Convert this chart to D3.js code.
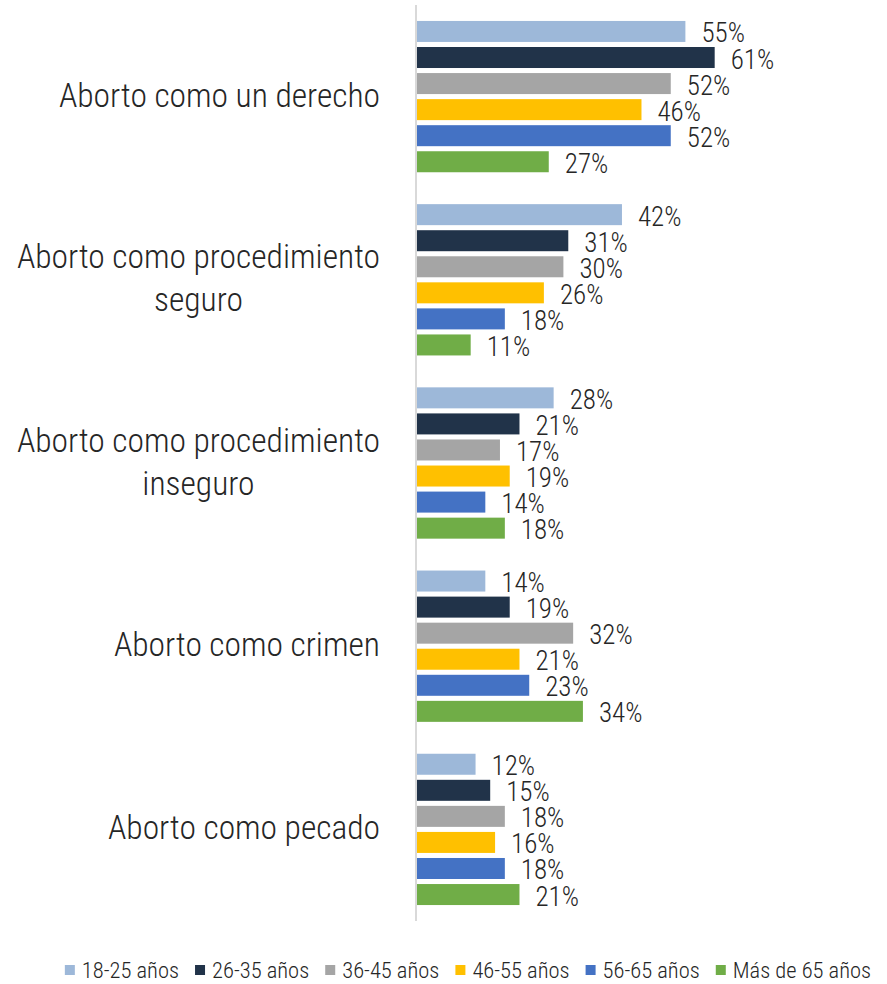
<!DOCTYPE html>
<html>
<head>
<meta charset="utf-8">
<script src="https://cdn.jsdelivr.net/npm/d3@7"></script>
<style>
  html, body { margin: 0; padding: 0; background: #ffffff; }
  svg { display: block; }
  text { font-family: "Roboto Condensed", "Roboto", sans-serif; font-stretch: condensed; font-weight: 300; fill: #262626; }
</style>
</head>
<body>
<svg id="chart" width="887" height="984"></svg>
<script>
const categories = [
  ["Aborto como un derecho"],
  ["Aborto como procedimiento", "seguro"],
  ["Aborto como procedimiento", "inseguro"],
  ["Aborto como crimen"],
  ["Aborto como pecado"]
];
const seriesNames = ["18-25 años", "26-35 años", "36-45 años", "46-55 años", "56-65 años", "Más de 65 años"];
const seriesColors = ["#9db8d9", "#213349", "#a5a5a5", "#ffc000", "#4472c4", "#70ad47"];
const values = [
  [55, 61, 52, 46, 52, 27],
  [42, 31, 30, 26, 18, 11],
  [28, 21, 17, 19, 14, 18],
  [14, 19, 32, 21, 23, 34],
  [12, 15, 18, 16, 18, 21]
];

const svg = d3.select("#chart");
const catKeys = categories.map(c => c.join(" "));

const y0 = d3.scaleBand().domain(catKeys).range([5, 921]).padding(0);
const y1 = d3.scaleBand().domain(d3.range(seriesNames.length))
  .range([0, y0.bandwidth()]).paddingInner(0.194).paddingOuter(0.612);
const x = d3.scaleLinear().domain([0, 100]).range([417, 905]);

// axis line
svg.append("line")
  .attr("x1", 416).attr("x2", 416)
  .attr("y1", y0.range()[0]).attr("y2", y0.range()[1])
  .attr("stroke", "#d9d9d9").attr("stroke-width", 2);

const groups = svg.selectAll("g.grp").data(values).enter().append("g")
  .attr("class", "grp")
  .attr("transform", (d, i) => `translate(0,${y0(catKeys[i])})`);

groups.selectAll("rect").data(d => d).enter().append("rect")
  .attr("x", x(0))
  .attr("y", (d, j) => y1(j))
  .attr("width", d => x(d) - x(0))
  .attr("height", y1.bandwidth())
  .attr("fill", (d, j) => seriesColors[j]);

groups.selectAll("text.val").data(d => d).enter().append("text")
  .attr("class", "val")
  .attr("x", d => x(d) + 16)
  .attr("y", (d, j) => y1(j) + y1.bandwidth() / 2 + 11)
  .attr("font-size", 27)
  .text(d => d + "%");

// category labels
categories.forEach((lines, i) => {
  const cy = y0(catKeys[i]) + y0.bandwidth() / 2;
  const lh = 43;
  const t = svg.append("text")
    .attr("font-size", 33.5)
    .attr("y", cy + 10 - (lines.length - 1) * lh / 2);
  lines.forEach((ln, k) => {
    t.append("tspan").attr("x", 380).attr("dy", k === 0 ? 0 : lh).text(ln);
  });
  if (lines.length === 1) {
    t.attr("text-anchor", "end");
  } else {
    const widths = [];
    t.selectAll("tspan").each(function() { widths.push(this.getComputedTextLength()); });
    const maxW = d3.max(widths);
    t.attr("text-anchor", "middle");
    t.selectAll("tspan").attr("x", 380 - maxW / 2);
  }
});

// legend
const legend = svg.append("g");
const items = legend.selectAll("g").data(seriesNames).enter().append("g");
items.append("rect").attr("width", 10).attr("height", 10).attr("y", -6)
  .attr("fill", (d, i) => seriesColors[i]);
items.append("text").attr("x", 17).attr("y", 7).attr("font-size", 22.5).text(d => d);
let cx = 0;
const gap = 16;
items.each(function() {
  const w = this.getBBox().width;
  d3.select(this).attr("transform", `translate(${cx},971)`);
  cx += w + gap;
});
const total = cx - gap;
legend.attr("transform", `translate(${468 - total / 2},0)`);
</script>
</body>
</html>
